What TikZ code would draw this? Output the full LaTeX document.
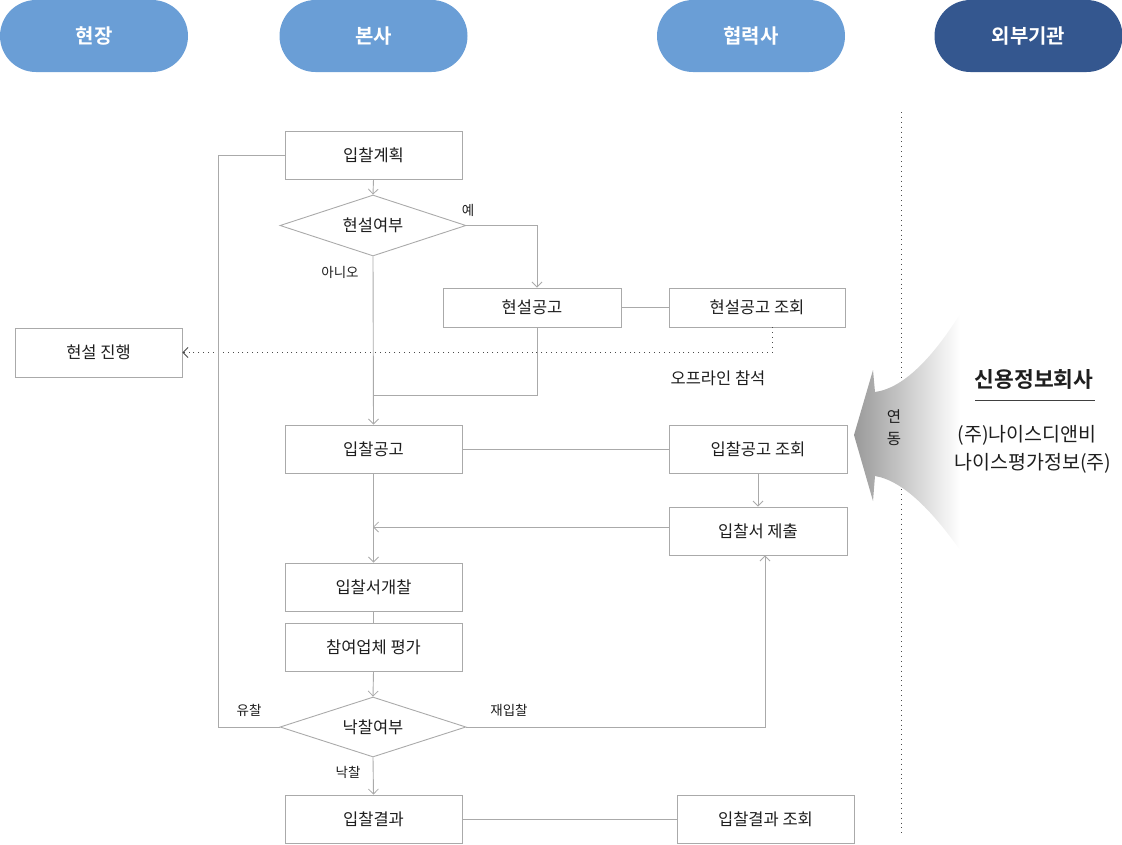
\documentclass[tikz,border=0pt]{standalone}
\usepackage{fontspec}
\setmainfont{Noto Sans CJK KR}[BoldFont={Noto Sans CJK KR Bold}]
\usetikzlibrary{arrows.meta,shapes.geometric}
\definecolor{pilllight}{RGB}{106,158,214}
\definecolor{pilldark}{RGB}{52,87,143}
\definecolor{linegray}{RGB}{170,170,170}
\definecolor{txt}{RGB}{30,30,30}
\tikzset{
  pill/.style={rectangle,rounded corners=36pt,minimum width=188pt,minimum height=72pt,inner sep=0pt,text=white,font=\fontsize{20}{24}\selectfont\bfseries},
  box/.style={rectangle,draw=linegray,line width=0.9pt,minimum width=177pt,minimum height=48pt,inner sep=0pt,text=txt,font=\fontsize{16.5}{19}\selectfont},
  decide/.style={diamond,draw=linegray,line width=0.9pt,aspect=3,minimum width=186pt,minimum height=61pt,inner sep=0pt,text=txt,font=\fontsize{16.5}{19}\selectfont},
  conn/.style={draw=linegray,line width=0.9pt},
  arr/.style={conn,-{Straight Barb[length=5pt,width=10pt,line width=0.8pt]}},
  lbl/.style={text=txt,font=\fontsize{13.5}{16}\selectfont,inner sep=0pt},
}
\begin{document}
\begin{tikzpicture}[x=1pt,y=-1pt]
\useasboundingbox (0,0) rectangle (1122,844);
% headers
\node[pill,fill=pilllight] (h1) at (94,36) {현장};
\node[pill,fill=pilllight] (h2) at (373.5,36) {본사};
\node[pill,fill=pilllight] (h3) at (751,36) {협력사};
\node[pill,fill=pilldark] (h4) at (1028.5,36) {외부기관};
% separator
\draw[txt!80,line width=0.9pt,dash pattern=on 0.9pt off 4pt] (901,112) -- (901,836);
% gradient arrow
\shade[left color=black!40,right color=white,draw=none]
  (854,435) -- (873,370) -- (875,392) .. controls (905,388) and (935,354) .. (960,314)
  -- (960,550) .. controls (935,515) and (905,481) .. (875,476) -- (873,501) -- cycle;
\node[text=txt,font=\fontsize{15.5}{17}\selectfont,inner sep=0pt] (yd1) at (894,417) {연};
\node[text=txt,font=\fontsize{15.5}{17}\selectfont,inner sep=0pt] (yd2) at (894,439) {동};
% right text
\node[text=txt,font=\fontsize{21.5}{25}\selectfont\bfseries,inner sep=0pt] (ci) at (1034,379) {신용정보회사};
\coordinate (ul1) at (975,400);
\coordinate (ul2) at (1095,400);
\draw[txt!85,line width=1pt] (ul1) -- (ul2);
\node[text=txt,font=\fontsize{19.5}{22}\selectfont,inner sep=0pt] (c1) at (1027,435) {(주)나이스디앤비};
\node[text=txt,font=\fontsize{19.5}{22}\selectfont,inner sep=0pt] (c2) at (1033,463) {나이스평가정보(주)};
% boxes
\node[box] (plan) at (373.5,155) {입찰계획};
\node[decide] (d1) at (373,225.5) {현설여부};
\node[box,minimum width=178pt,minimum height=39pt] (hs) at (532,307.5) {현설공고};
\node[box,minimum width=176pt,minimum height=39pt] (hsq) at (757,307.5) {현설공고 조회};
\node[box,minimum width=167pt,minimum height=49pt] (hj) at (98.5,352.5) {현설 진행};
\node[box] (ann) at (373.5,449) {입찰공고};
\node[box,minimum width=178pt] (annq) at (758,449) {입찰공고 조회};
\node[box,minimum width=178pt] (sub) at (758,531) {입찰서 제출};
\node[box] (open) at (373.5,587) {입찰서개찰};
\node[box] (eval) at (373.5,647) {참여업체 평가};
\node[decide,minimum height=60pt] (d2) at (373,727) {낙찰여부};
\node[box] (res) at (373.5,819) {입찰결과};
\node[box] (resq) at (765.5,819) {입찰결과 조회};
% coordinates
\coordinate (m1) at (373,395);
\coordinate (m2) at (373,527);
\coordinate (lp) at (218,727);
\coordinate (xa) at (537,0);
% connectors
\draw[arr] (plan.south) -- (d1.north);
\draw[arr] (d1.east) -| (hs.north -| xa);
\draw[arr] (d1.south) -- (ann.north);
\draw[conn] (hs.south -| xa) |- (m1);
\draw[conn] (hs.east) -- (hsq.west);
\draw[txt!80,line width=0.9pt,dash pattern=on 0.9pt off 4pt,-{Straight Barb[length=5pt,width=10pt,line width=0.8pt]}]
  (hsq.south -| 772,0) |- (hj.east);
\draw[conn] (ann.east) -- (annq.west);
\draw[arr] (annq.south) -- (sub.north);
\draw[arr] (sub.west |- m2) -- (m2);
\draw[arr] (ann.south) -- (open.north);
\draw[conn] (open.south) -- (eval.north);
\draw[arr] (eval.south) -- (d2.north);
\draw[conn] (d2.west) -- (lp) |- (plan.west);
\draw[arr] (d2.east) -| (sub.south -| 765,0);
\draw[arr] (d2.south) -- (res.north);
\draw[conn] (res.east) -- (resq.west);
% labels
\node[lbl] (l1) at (468,210) {예};
\node[lbl] (l2) at (340,272) {아니오};
\node[text=txt,font=\fontsize{16.5}{19}\selectfont,inner sep=0pt] (l3) at (718,378) {오프라인 참석};
\node[lbl] (l4) at (249,710) {유찰};
\node[lbl] (l5) at (509,710) {재입찰};
\node[lbl] (l6) at (348,772) {낙찰};
\end{tikzpicture}
\end{document}
